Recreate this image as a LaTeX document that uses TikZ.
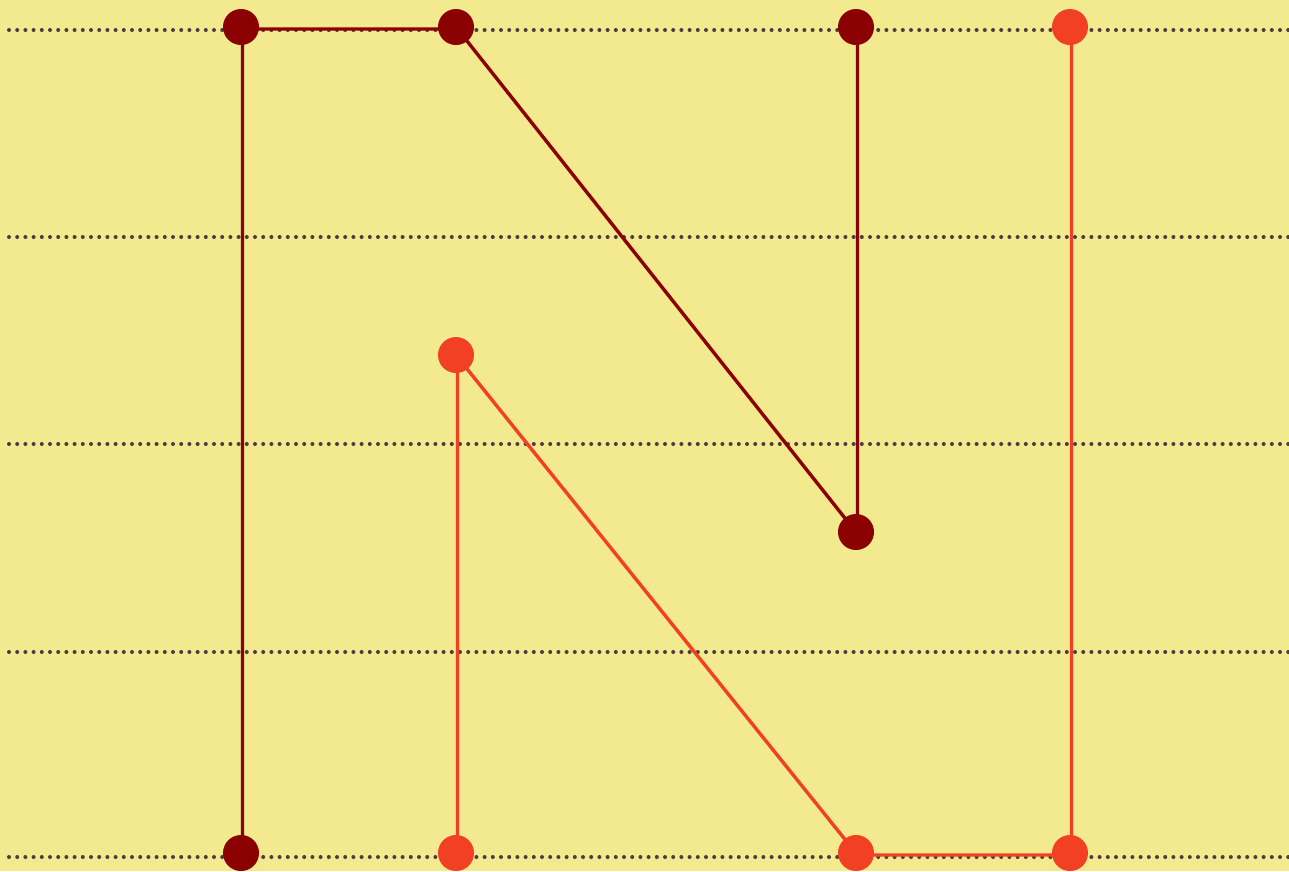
\documentclass[tikz,border=0pt]{standalone}
\definecolor{bg}{HTML}{F3E98F}
\definecolor{darkred}{HTML}{8B0000}
\definecolor{lightred}{HTML}{F24024}
\definecolor{guide}{HTML}{503A40}
\begin{document}
\begin{tikzpicture}[x=1pt,y=-1pt,
  guideline/.style={guide,line width=4pt,line cap=round,dash pattern=on 0pt off 8.2pt},
  darkdot/.style={circle,fill=darkred,minimum size=36pt,inner sep=0pt},
  lightdot/.style={circle,fill=lightred,minimum size=36pt,inner sep=0pt},
  darkline/.style={darkred,line width=3.4pt,transform canvas={xshift=1.5pt,yshift=-2pt}},
  lightline/.style={lightred,line width=3.4pt,transform canvas={xshift=1.5pt,yshift=-2pt}}]
\fill[bg] (0,0) rectangle (1289,871);
\useasboundingbox (0,0) rectangle (1289,871);
\foreach \y in {30,237,444,652,857}
  \draw[guideline] (9,\y) -- (1289,\y);
% coordinates
\coordinate (d1) at (241,27);
\coordinate (d2) at (456,27);
\coordinate (d3) at (856,27);
\coordinate (d4) at (856,532);
\coordinate (d5) at (241,853);
\coordinate (l1) at (1070,27);
\coordinate (l2) at (456,355);
\coordinate (l3) at (456,853);
\coordinate (l4) at (856,853);
\coordinate (l5) at (1070,853);
% connectors
\draw[darkline] (d5) -- (d1) -- (d2) -- (d4) -- (d3);
\draw[lightline] (l3) -- (l2) -- (l4) -- (l5) -- (l1);
% dots
\foreach \n in {d1,d2,d3,d4,d5}
  \node[darkdot] (n\n) at (\n) {};
\foreach \n in {l1,l2,l3,l4,l5}
  \node[lightdot] (n\n) at (\n) {};
\end{tikzpicture}
\end{document}
